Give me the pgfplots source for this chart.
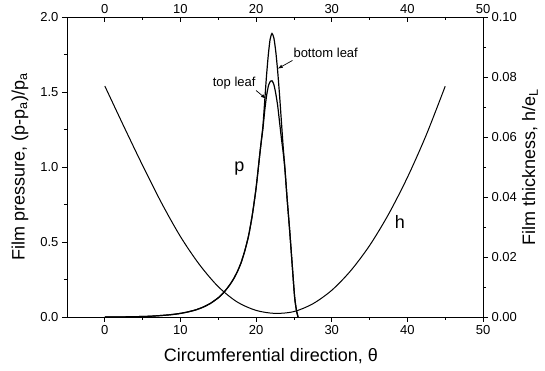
\documentclass[border=0pt]{standalone}
\usepackage{fontspec}
\setmainfont{Liberation Sans}
\usepackage{pgfplots}
\pgfplotsset{compat=1.18}
\usetikzlibrary{arrows.meta}

% film thickness h/e_L along the circumferential direction
\pgfplotstableread{
x     h
0     0.0770
2.5   0.0636
5     0.0505
7.5   0.0380
10    0.0268
12.5  0.0175
15    0.0101
17.5  0.0050
20    0.0022
22.5  0.0012
25    0.0018
27.5  0.0044
30    0.0089
32.5  0.0154
35    0.0238
37.5  0.0342
40    0.0465
42.5  0.0607
45    0.0769
}\thick

% film pressure, bottom leaf
\pgfplotstableread{
x     p
0     0.0000
2     0.0005
4     0.002
6     0.005
8     0.012
9     0.017
10    0.024
11    0.034
12    0.047
13    0.066
14    0.092
15    0.128
15.5  0.152
16    0.180
16.5  0.213
17    0.252
17.5  0.300
18    0.360
18.5  0.440
19    0.540
19.5  0.680
20    0.860
20.5  1.090
20.7  1.180
20.9  1.270
21.1  1.410
21.35 1.590
21.6  1.740
21.85 1.850
22.1  1.890
22.35 1.860
22.6  1.770
22.85 1.640
23.1  1.480
23.35 1.300
23.6  1.120
23.8  1.000
24.1  0.790
24.45 0.570
24.8  0.330
25.1  0.130
25.35 0.040
25.55 0.000
}\bottomleaf

% film pressure, top leaf
\pgfplotstableread{
x     p
0     0.0000
2     0.0005
4     0.002
6     0.005
8     0.012
9     0.017
10    0.024
11    0.034
12    0.047
13    0.066
14    0.092
15    0.128
15.5  0.152
16    0.180
16.5  0.213
17    0.252
17.5  0.300
18    0.360
18.5  0.440
19    0.540
19.5  0.680
20    0.860
20.5  1.090
20.7  1.175
20.9  1.255
21.15 1.380
21.4  1.480
21.65 1.545
21.9  1.572
22.1  1.575
22.35 1.550
22.6  1.490
22.85 1.410
23.1  1.300
23.35 1.190
23.6  1.090
23.8  0.990
24.1  0.790
24.45 0.570
24.8  0.330
25.1  0.130
25.35 0.040
25.55 0.000
}\topleaf

\pgfplotsset{
  common/.style={
    scale only axis, width=416pt, height=300pt,
    xmin=-5, xmax=50,
    tick label style={font=\fontsize{13}{15}\selectfont},
    label style={font=\fontsize{18}{21}\selectfont},
    /pgf/number format/assume math mode=true,
    major tick length=5pt, minor tick length=3pt,
    every tick/.style={black, line width=0.8pt},
    axis line style={line width=0.9pt, black},
  },
}

\begin{document}
\begin{tikzpicture}
% pressure axis (left, bottom)
\begin{axis}[common, name=main,
  axis x line*=bottom, axis y line*=left, tick align=outside,
  ymin=0, ymax=2,
  xtick={0,10,20,30,40,50}, minor xtick={5,15,25,35,45},
  ytick={0,0.5,1,1.5,2}, minor ytick={0.25,0.75,1.25,1.75},
  yticklabel style={/pgf/number format/.cd, fixed, fixed zerofill, precision=1},
  xlabel={Circumferential direction, θ},
  ylabel={Film pressure, (p-p\textsubscript{a})/p\textsubscript{a}},
  xlabel style={at={(axis description cs:0.49,-0.15)}, anchor=base},
  ylabel style={at={(axis description cs:-0.113,0.5)}, anchor=center},
]
\addplot[black, line width=1.2pt, smooth, tension=0.4] table[x=x, y=p] {\bottomleaf};
\addplot[black, line width=1.2pt, smooth, tension=0.4] table[x=x, y=p] {\topleaf};
\node[font=\fontsize{13}{15}\selectfont] at (axis cs:17.1,1.56) {top leaf};
\draw[-{Latex[length=5pt,width=3.5pt]}, line width=0.7pt] (axis cs:20.0,1.51) -- (axis cs:21.3,1.455);
\node[font=\fontsize{13}{15}\selectfont] at (axis cs:29.2,1.76) {bottom leaf};
\draw[-{Latex[length=5pt,width=3.5pt]}, line width=0.7pt] (axis cs:24.8,1.71) -- (axis cs:22.85,1.655);
\node[font=\fontsize{18}{21}\selectfont] at (axis cs:17.8,0.99) {p};
\node[font=\fontsize{18}{21}\selectfont] at (axis cs:39,0.635) {h};
\end{axis}
% film thickness axis (right)
\begin{axis}[common,
  axis y line*=right, axis x line=none, tick align=outside,
  ymin=0, ymax=0.1,
  ytick={0,0.02,0.04,0.06,0.08,0.1}, minor ytick={0.01,0.03,0.05,0.07,0.09},
  yticklabel style={/pgf/number format/.cd, fixed, fixed zerofill, precision=2},
  ylabel={Film thickness, h/e\textsubscript{L}},
  ylabel style={at={(axis description cs:1.113,0.5)}, anchor=center},
]
\addplot[black, line width=1.0pt, smooth] table[x=x, y=h] {\thick};
\end{axis}
% top angle axis
\begin{axis}[common,
  axis x line*=top, axis y line=none, tick align=inside,
  ymin=0, ymax=1,
  xtick={0,10,20,30,40,50}, minor xtick={5,15,25,35,45},
]
\end{axis}
\pgfresetboundingbox
\path ([shift={(-67pt,-54pt)}]main.south west) rectangle ([shift={(62pt,17pt)}]main.north east);
\end{tikzpicture}
\end{document}
